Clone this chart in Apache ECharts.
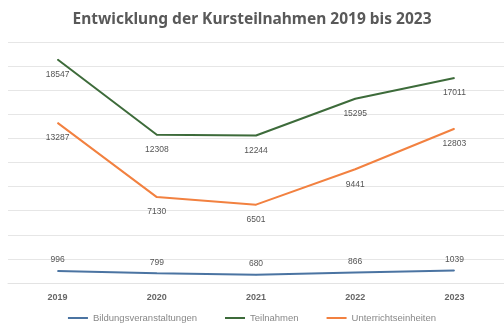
<!DOCTYPE html>
<html><head><meta charset="utf-8">
<script src="https://cdn.jsdelivr.net/npm/echarts@6/dist/echarts.min.js"></script>
<style>html,body{margin:0;padding:0;background:#fff}#c{width:504px;height:330px}</style>
</head><body><div id="c"></div>
<script>
const categories = ['2019','2020','2021','2022','2023'];
const bildung = [996, 799, 680, 866, 1039];
const teilnahmen = [18547, 12308, 12244, 15295, 17011];
const unterricht = [13287, 7130, 6501, 9441, 12803];
const yMin = 0, yMax = 20000, yInterval = 2000;

const chart = echarts.init(document.getElementById('c'));
const lbl = {show:true, fontSize:8.5, color:'#555', fontFamily:'Liberation Sans, Arial'};
function mk(name, data, color, pos, dist){
  return {name:name, type:'line', data:data, symbol:'circle', symbolSize:1, showSymbol:true,
    lineStyle:{color:color, width:2}, itemStyle:{color:color},
    label:Object.assign({}, lbl, {position:pos, distance:dist})};
}
chart.setOption({
  animation:false,
  title:{text:'Entwicklung der Kursteilnahmen 2019 bis 2023', left:'center', top:7,
    textStyle:{fontSize:15.5, fontWeight:'bold', color:'#595959', fontFamily:'Noto Sans, Open Sans, sans-serif'}},
  grid:{left:8, right:0, top:42, bottom:47},
  xAxis:{type:'category', data:categories, boundaryGap:true,
    axisLine:{show:true, lineStyle:{color:'#e3e3e3'}}, axisTick:{show:false},
    axisLabel:{fontSize:9, fontWeight:'bold', color:'#666', margin:10, fontFamily:'Liberation Sans, Arial'}},
  yAxis:{type:'value', min:yMin, max:yMax, interval:yInterval,
    axisLabel:{show:false}, axisLine:{show:false}, axisTick:{show:false},
    splitLine:{lineStyle:{color:'#e6e6e6', width:1}}},
  legend:{bottom:2, left:'center', itemWidth:20, itemHeight:2, itemGap:28,
    icon:'rect',
    textStyle:{fontSize:9.5, color:'#888', fontFamily:'Liberation Sans, Arial'},
    data:['Bildungsveranstaltungen','Teilnahmen','Unterrichtseinheiten']},
  series:[
    mk('Bildungsveranstaltungen', bildung, '#4b74a2', 'top', 6),
    mk('Teilnahmen', teilnahmen, '#3d6b3a', 'bottom', 10),
    mk('Unterrichtseinheiten', unterricht, '#f28140', 'bottom', 10)
  ]
});
</script></body></html>
